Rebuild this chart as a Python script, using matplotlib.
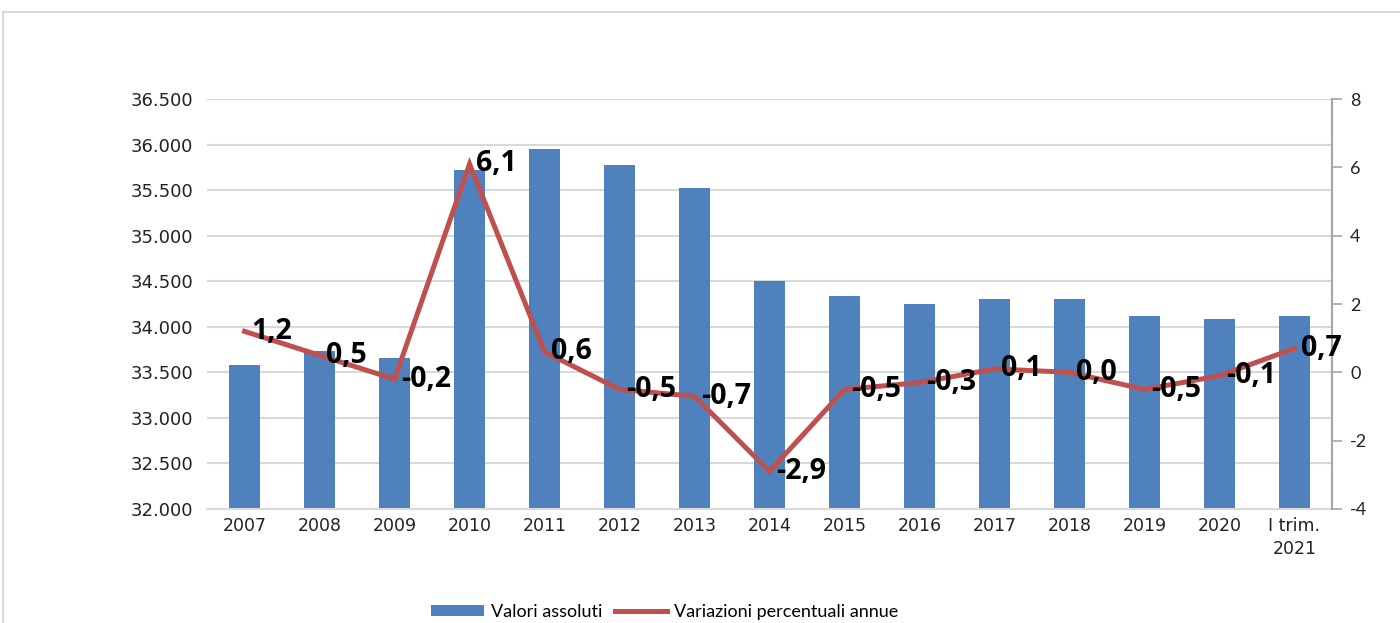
import numpy as np
import matplotlib.pyplot as plt
from matplotlib.patches import Rectangle
from matplotlib.lines import Line2D
from matplotlib.patches import Patch

categories = ["2007", "2008", "2009", "2010", "2011", "2012", "2013", "2014",
              "2015", "2016", "2017", "2018", "2019", "2020", "I trim.\n2021"]
valori = [33580, 33730, 33660, 35720, 35950, 35780, 35520, 34500,
          34340, 34250, 34300, 34300, 34120, 34090, 34120]
variazioni = [1.2, 0.5, -0.2, 6.1, 0.6, -0.5, -0.7, -2.9,
              -0.5, -0.3, 0.1, 0.0, -0.5, -0.1, 0.7]

blue = "#4F81BD"
red = "#C0504D"
grid = "#D9D9D9"

fig = plt.figure(figsize=(14, 6.23), dpi=100)
ax = fig.add_axes([0.1479, 0.183, 0.8035, 0.658])

# cornice grigia del grafico
fig.patches.append(Rectangle((3 / 1400, -0.1), 1.2, 1 - 12 / 623 + 0.1,
                             transform=fig.transFigure, fill=False,
                             edgecolor="#D9D9D9", linewidth=1.5))

x = np.arange(len(categories))
ax.bar(x, valori, width=0.41, color=blue, zorder=2)
ax.set_ylim(32000, 36500)
ax.set_xlim(-0.5, len(categories) - 0.5)
ax.set_yticks(np.arange(32000, 36501, 500))
ax.set_yticklabels([f"{v:,.0f}".replace(",", ".") for v in np.arange(32000, 36501, 500)],
                   fontsize=13, color="#222222")
ax.yaxis.grid(True, color=grid, linewidth=1.5, zorder=0)
ax.set_axisbelow(True)
ax.set_xticks(x)
ax.set_xticklabels(categories, fontsize=12.5, color="#222222", linespacing=1.3)
ax.tick_params(axis="both", length=0)
ax.tick_params(axis="x", pad=6)
ax.tick_params(axis="y", pad=10)
for s in ["top", "left", "right"]:
    ax.spines[s].set_visible(False)
ax.spines["bottom"].set_color(grid)
ax.spines["bottom"].set_linewidth(1.5)

ax2 = ax.twinx()
ax2.plot(x, variazioni, color=red, linewidth=3.6, solid_joinstyle="miter", zorder=3)
ax2.set_ylim(-4, 8)
ax2.set_yticks(np.arange(-4, 9, 2))
ax2.set_yticklabels([str(v) for v in np.arange(-4, 9, 2)], fontsize=13,
                    family="Lato", color="#222222")
ax2.tick_params(axis="y", length=7, color="#A6A6A6", width=1.2, pad=6)
for s in ["top", "left", "bottom"]:
    ax2.spines[s].set_visible(False)
ax2.spines["right"].set_color("#A6A6A6")
ax2.spines["right"].set_linewidth(1.5)

for xi, v in zip(x, variazioni):
    ax2.annotate(f"{v:.1f}".replace(".", ","), (xi, v), xytext=(5, 0),
                 textcoords="offset points", ha="left", va="center",
                 fontsize=20.5, fontweight="bold", family="Open Sans", zorder=4)

handles = [Patch(facecolor=blue, edgecolor="none"),
           Line2D([0], [0], color=red, linewidth=3.6)]
fig.legend(handles, ["Valori assoluti", "Variazioni percentuali annue"],
           loc="center", bbox_to_anchor=(0.475, 0.018), ncol=2, frameon=False,
           prop={"family": "Lato", "size": 13}, handlelength=2.9, handleheight=0.6,
           columnspacing=0.7, handletextpad=0.4)

fig.savefig("out.png", dpi=100)
